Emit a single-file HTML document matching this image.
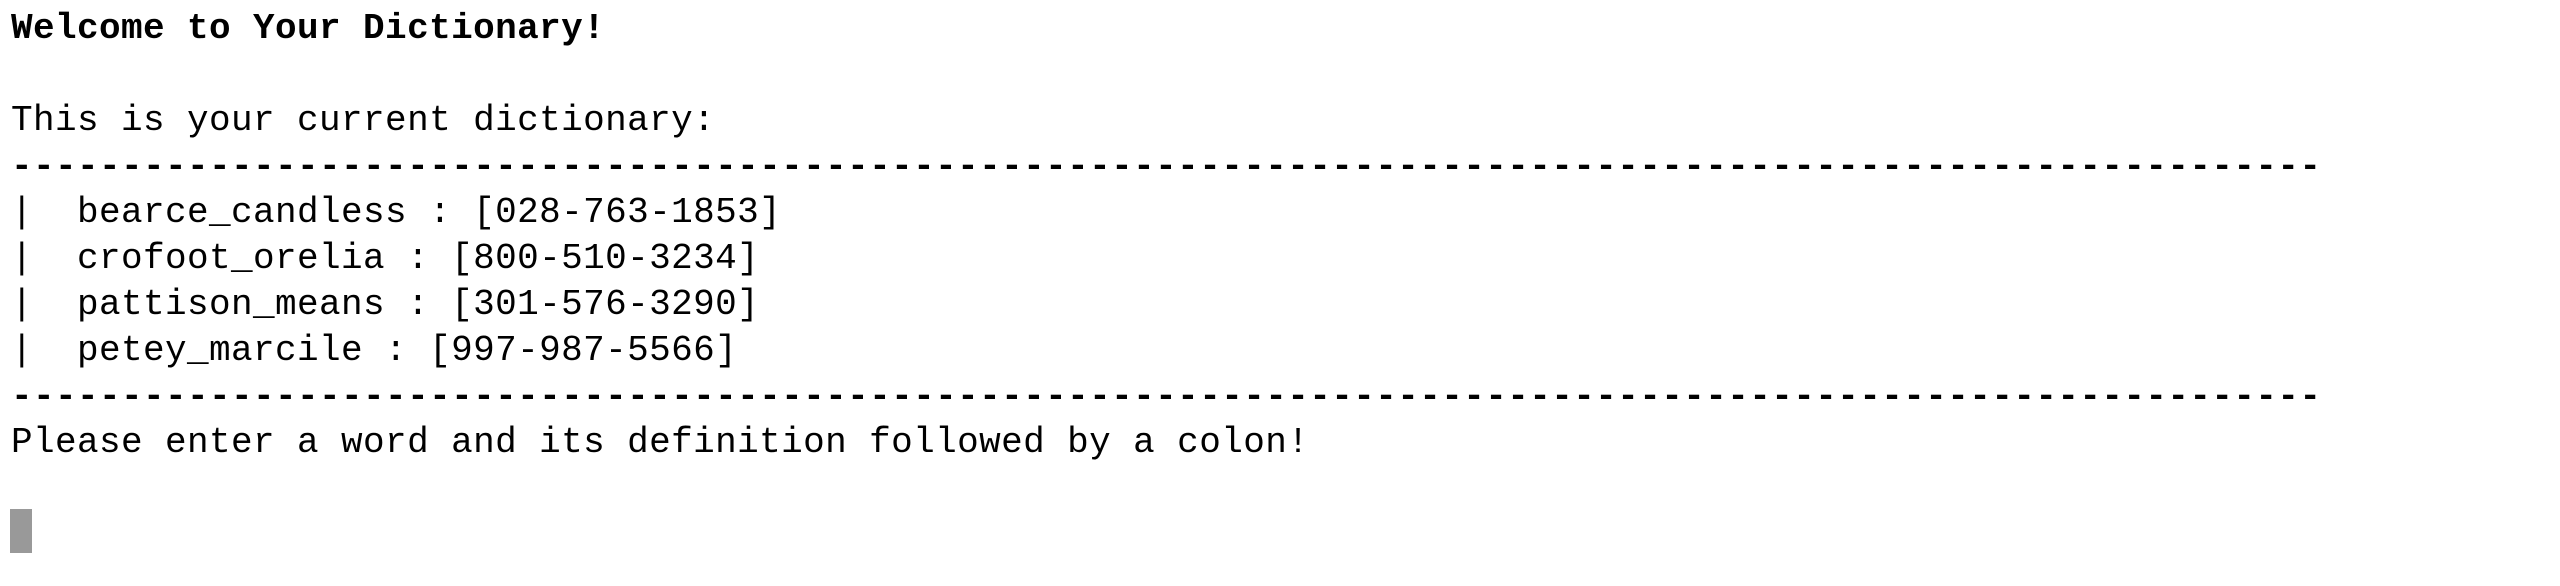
<!DOCTYPE html>
<html><head><meta charset="utf-8"><style>
html,body{margin:0;padding:0;background:#fff;width:2560px;height:586px;overflow:hidden}
pre{position:absolute;left:11px;top:6px;margin:0;font-family:"Liberation Mono",monospace;font-size:36px;letter-spacing:0.4px;line-height:46px;color:#000}
b{font-weight:bold}
.d{font-weight:bold;transform:scaleX(1.25);display:inline-block;transform-origin:left}
.cur{position:absolute;left:10px;top:509px;width:22px;height:44px;background:#999}
</style></head><body>
<pre><b>Welcome to Your Dictionary!</b>

This is your current dictionary:
<b>---------------------------------------------------------------------------------------------------------</b>
|  bearce_candless : [028-763-1853]
|  crofoot_orelia : [800-510-3234]
|  pattison_means : [301-576-3290]
|  petey_marcile : [997-987-5566]
<b>---------------------------------------------------------------------------------------------------------</b>
Please enter a word and its definition followed by a colon!
</pre>
<div class="cur"></div>
</body></html>
